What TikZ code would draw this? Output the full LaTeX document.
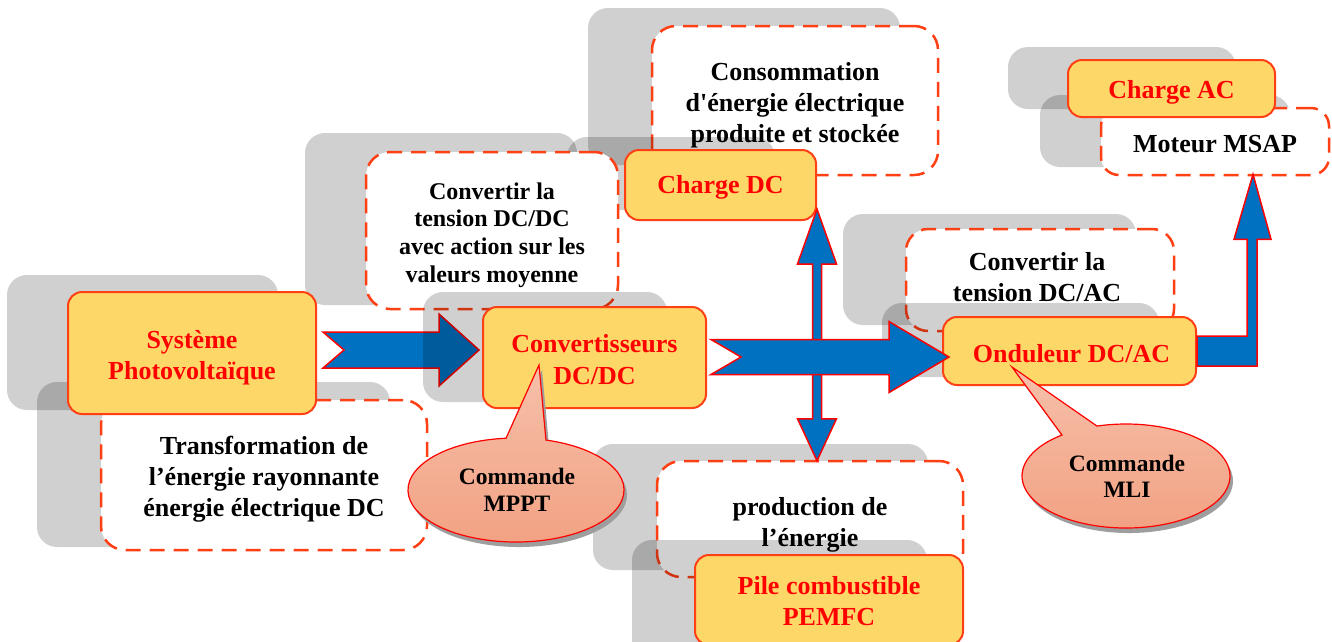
\documentclass[tikz,border=0pt]{standalone}
\usepackage{fontspec}
\setmainfont{Liberation Serif}
\usetikzlibrary{calc}
\pgfdeclarelayer{bg}
\pgfdeclarelayer{under}
\pgfsetlayers{bg,under,main}

\definecolor{boxyellow}{HTML}{FDD868}
\definecolor{boxedge}{HTML}{FF3F14}
\definecolor{flowblue}{HTML}{0070C0}
\definecolor{calltop}{HTML}{F6C0AA}
\definecolor{callbot}{HTML}{F2A182}

\tikzset{
  big/.style={font=\fontsize{26}{31}\selectfont\bfseries},
  mid/.style={font=\fontsize{24}{27.7}\selectfont\bfseries},
  small/.style={font=\fontsize{23.5}{26.5}\selectfont\bfseries},
  sz/.style 2 args={minimum width=#1pt, minimum height=#2pt},
  shd/.style={fill=black, fill opacity=0.185, rounded corners=20pt},
  ybox/.style={draw=boxedge, line width=2pt, fill=boxyellow, rounded corners=14pt, inner sep=0pt},
  dbox/.style={draw=boxedge, line width=2.5pt, dash pattern=on 15pt off 9pt, fill=white,
    rounded corners=24pt, inner sep=0pt},
  ytext/.style={text=red, align=center, inner sep=0pt, big},
  dtext/.style={text=black, align=center, inner sep=0pt, big},
  bigarrow/.style={draw=red, line width=1.5pt, fill=flowblue, line join=miter},
  callout/.style={draw=red, line width=1.2pt, top color=calltop, bottom color=callbot},
  calloutshadow/.style={fill=black!38},
  ctext/.style={align=center, inner sep=0pt, text=black, small},
}

% horizontal block arrow with notched tail: tail, tip, shaft half, head half, head length, notch
\newcommand{\flowarrow}[6]{%
  \draw[bigarrow] let \p1=(#1), \p2=(#2) in
    (\x1,\y2+#3) -- (\x2-#5,\y2+#3) -- (\x2-#5,\y2+#4) -- (\x2,\y2)
    -- (\x2-#5,\y2-#4) -- (\x2-#5,\y2-#3) -- (\x1,\y2-#3) -- (\x1+#6,\y2) -- cycle;}

\begin{document}
\begin{tikzpicture}[x=1pt, y=-1pt]
\useasboundingbox (0,0) rectangle (1332,641);
\begin{pgfonlayer}{bg}
  \fill[white] (0,0) rectangle (1332,641);
\end{pgfonlayer}
\clip (0,0) rectangle (1332,641);

% consumption of DC energy
\fill[shd] (588,8) rectangle (900,165);
\node[dbox, sz={286}{149}] (cons) at (795,100.5) {};
\node[dtext] (cons-t) at ($(cons)+(0,5)$)
  {Consommation\\d\textquotesingle énergie électrique\\produite et stockée};
\fill[shd] (567,137) rectangle (775,210);
\node[ybox, sz={191}{70}] (chdc) at (720.5,185) {};
\node[ytext] (chdc-t) at ($(chdc)+(0,2)$) {Charge DC};

% DC/DC conversion
\fill[shd] (305,133) rectangle (577,305);
\node[dbox, sz={252}{157}] (cdcdc) at (492,230.5) {};
\node[dtext, mid] (cdcdc-t) at ($(cdcdc)+(0,4.5)$)
  {Convertir la\\tension DC/DC\\avec action sur les\\valeurs moyenne};
\fill[shd] (423,292) rectangle (667,402);
\node[ybox, sz={223}{101}] (conv) at (594.5,357.5) {};
\node[ytext, font=\fontsize{26}{32}\selectfont\bfseries] (conv-t) at ($(conv)+(0,2)$)
  {Convertisseurs\\DC/DC};

% photovoltaic source
\fill[shd] (37,382) rectangle (390,547);
\node[dbox, sz={326}{150}] (trans) at (264,475) {};
\node[dtext] (trans-t) at ($(trans)+(0,4.5)$)
  {Transformation de\\l’énergie rayonnante\\énergie électrique DC};
\fill[shd] (7,275) rectangle (278,410);
\node[ybox, sz={248}{122}] (sys) at (192,353) {};
\node[ytext] (sys-t) at ($(sys)+(0,5)$) {Système\\Photovoltaïque};

% fuel cell
\fill[shd] (593,444) rectangle (928,570);
\node[dbox, sz={306}{116}] (prod) at (810,519) {};
\node[dtext] (prod-t) at ($(prod)+(0,5.5)$) {production de\\l’énergie};
\fill[shd] (632,540) rectangle (927,660);
\node[ybox, sz={268}{90}] (pile) at (829,600) {};
\node[ytext] (pile-t) at ($(pile)+(0,1)$) {Pile combustible\\PEMFC};

% inverter
\fill[shd] (843,214) rectangle (1136,325);
\node[dbox, sz={268}{102}, rounded corners=22pt] (cdcac) at (1040,280) {};
\node[dtext] (cdcac-t) at ($(cdcac)+(-3,-2.5)$) {Convertir la\\tension DC/AC};
\fill[shd] (882,303) rectangle (1159,377);
\node[ybox, sz={253}{68}] (ond) at (1069.5,351) {};
\node[ytext] (ond-t) at ($(ond)+(2,3)$) {Onduleur DC/AC};

% AC load
\fill[shd] (1040,95) rectangle (1290,167);
\node[dbox, sz={228}{67}, rounded corners=18pt] (mot) at (1215,141.5) {};
\node[dtext] (mot-t) at ($(mot)+(0,3)$) {Moteur MSAP};
\fill[shd] (1008,47) rectangle (1236,109);
\node[ybox, sz={207}{57}] (chac) at (1171.5,88.5) {};
\node[ytext] (chac-t) at ($(chac)+(0,4)$) {Charge AC};

% PV -> DC/DC arrow, kept under the shadows
\begin{pgfonlayer}{under}
  \coordinate (a1s) at ($(sys.east)+(6,-3)$);
  \coordinate (a1e) at ($(conv.west)+(-3,-7.5)$);
  \flowarrow{a1s}{a1e}{18pt}{36pt}{40pt}{21pt}
\end{pgfonlayer}

% DC bus: double arrow between DC load and fuel cell
\coordinate (vtop) at ($(chdc.south east)+(0,-12)$);
\coordinate (vbot) at ($(prod.north)+(7,1)$);
\draw[bigarrow] let \p1=(vtop), \p2=(vbot) in
  (\x1,\y1) -- (\x1+19.5pt,\y1-55pt) -- (\x1+4.5pt,\y1-55pt) -- (\x1+4.5pt,\y2+42pt)
  -- (\x1+19.5pt,\y2+42pt) -- (\x1,\y2) -- (\x1-19.5pt,\y2+42pt) -- (\x1-4.5pt,\y2+42pt)
  -- (\x1-4.5pt,\y1-55pt) -- (\x1-19.5pt,\y1-55pt) -- cycle;

% DC/DC -> inverter
\coordinate (a2s) at ($(conv.east)+(4,-0.5)$);
\coordinate (a2e) at ($(ond.west)+(7,6)$);
\flowarrow{a2s}{a2e}{17.5pt}{35.5pt}{60pt}{30pt}

% inverter -> motor
\coordinate (a3s) at (ond.east);
\coordinate (a3e) at ($(mot.south)+(38,-2)$);
\draw[bigarrow] let \p1=(a3s), \p2=(a3e) in
  (\x1,\y1+15pt) -- (\x2-6pt,\y1+15pt) -- (\x2-6pt,\y2-65pt) -- (\x2-19pt,\y2-65pt)
  -- (\x2,\y2) -- (\x2+18pt,\y2-65pt) -- (\x2+4pt,\y2-65pt) -- (\x2+4pt,\y1-15pt)
  -- (\x1,\y1-15pt) -- cycle;

% MPPT control callout
\coordinate (mpptc) at (516,490);
\coordinate (mppttip) at ($(conv.center)+(-55.5,7.5)$);
\begin{scope}[transform canvas={xshift=3pt, yshift=-5pt}]
  \fill[calloutshadow] ($(mpptc)+(73.9:108pt and 52pt)$)
    arc[start angle=73.9, end angle=-264.7, x radius=108pt, y radius=52pt]
    -- (mppttip) -- cycle;
\end{scope}
\draw[callout] ($(mpptc)+(73.9:108pt and 52pt)$)
  arc[start angle=73.9, end angle=-264.7, x radius=108pt, y radius=52pt]
  -- (mppttip) -- cycle;
\node[ctext] (mppt) at ($(mpptc)+(1,0)$) {Commande\\MPPT};

% PWM control callout
\coordinate (mlic) at (1126,476);
\coordinate (mlitip) at ($(ond.center)+(-57.5,16)$);
\begin{scope}[transform canvas={xshift=3pt, yshift=-5pt}]
  \fill[calloutshadow] ($(mlic)+(106.2:104pt and 52pt)$)
    arc[start angle=106.2, end angle=-232, x radius=104pt, y radius=52pt]
    -- (mlitip) -- cycle;
\end{scope}
\draw[callout] ($(mlic)+(106.2:104pt and 52pt)$)
  arc[start angle=106.2, end angle=-232, x radius=104pt, y radius=52pt]
  -- (mlitip) -- cycle;
\node[ctext] (mli) at ($(mlic)+(1,0.5)$) {Commande\\MLI};
\end{tikzpicture}
\end{document}
